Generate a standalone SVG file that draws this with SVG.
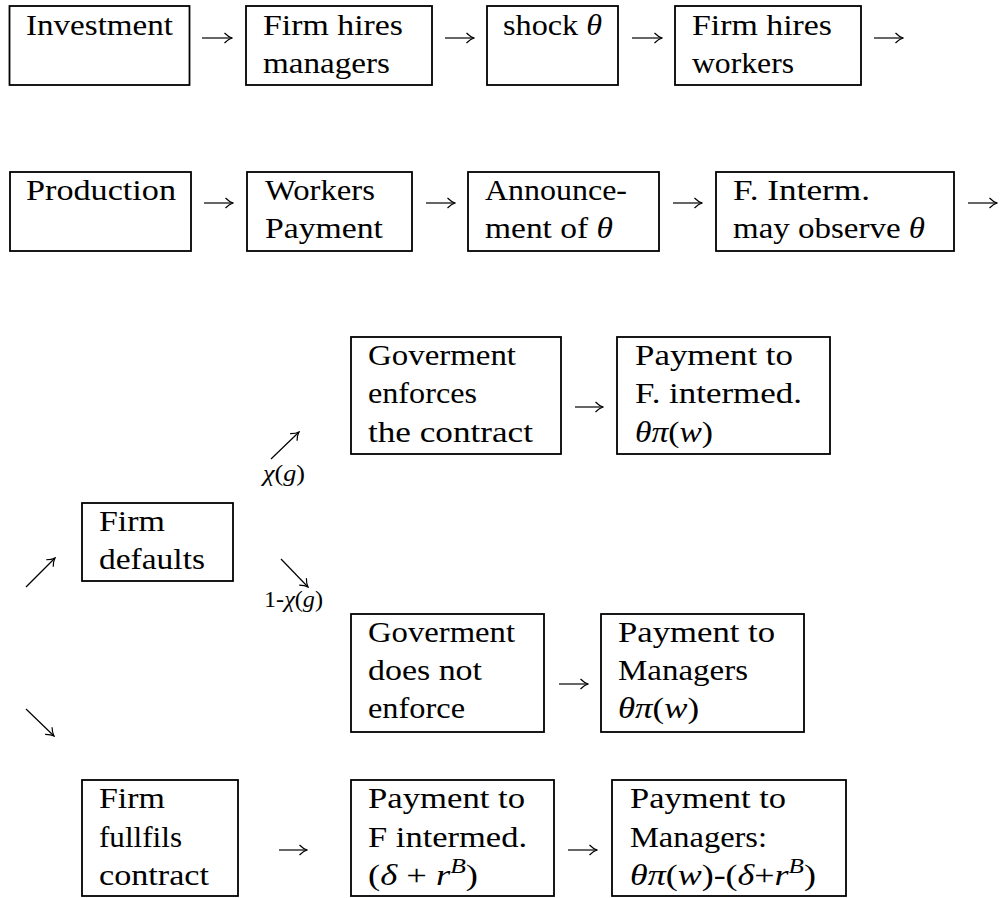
<svg xmlns="http://www.w3.org/2000/svg" width="1002" height="898" viewBox="0 0 1002 898" font-family="'Liberation Serif', 'DejaVu Serif', serif">
<style>
.box{fill:#fff;stroke:#000;stroke-width:1.8}
.t{font-family:'Liberation Serif', 'DejaVu Serif', serif;font-size:30px;fill:#000}
.s{font-family:'Liberation Serif', 'DejaVu Serif', serif;font-size:24px;fill:#000}
.i{font-style:italic}
.sup{font-size:21px;font-style:italic}
.arr{stroke:#000;stroke-width:1.2;fill:none}
</style>
<defs>
<marker id="ah" markerUnits="userSpaceOnUse" viewBox="-9 -6 10 12" refX="0" refY="0" markerWidth="10" markerHeight="12" orient="auto">
<path d="M -7.5,-5 Q -3.5,-1 0,0 Q -3.5,1 -7.5,5" fill="none" stroke="#000" stroke-width="1.2"/>
</marker>
</defs>
<rect width="1002" height="898" fill="#fff"/>

<g id="investment"><rect class="box" x="9.5" y="6" width="180" height="79"/><text class="t" x="26" y="35" textLength="147" lengthAdjust="spacingAndGlyphs">Investment</text></g>
<g id="hire-managers"><rect class="box" x="246" y="6" width="186" height="79"/><text class="t" x="263" y="35" textLength="140" lengthAdjust="spacingAndGlyphs">Firm hires</text><text class="t" x="263" y="73" textLength="127" lengthAdjust="spacingAndGlyphs">managers</text></g>
<g id="shock"><rect class="box" x="487" y="6" width="131" height="79"/><text class="t" x="503" y="35" textLength="99" lengthAdjust="spacingAndGlyphs">shock <tspan class="i">θ</tspan></text></g>
<g id="hire-workers"><rect class="box" x="675" y="6" width="186" height="79"/><text class="t" x="692" y="35" textLength="140" lengthAdjust="spacingAndGlyphs">Firm hires</text><text class="t" x="692" y="73" textLength="102" lengthAdjust="spacingAndGlyphs">workers</text></g>

<g id="production"><rect class="box" x="10" y="172" width="181" height="79"/><text class="t" x="26" y="200" textLength="150" lengthAdjust="spacingAndGlyphs">Production</text></g>
<g id="workers-payment"><rect class="box" x="247" y="172" width="165" height="79"/><text class="t" x="265" y="200" textLength="110" lengthAdjust="spacingAndGlyphs">Workers</text><text class="t" x="265" y="238" textLength="118" lengthAdjust="spacingAndGlyphs">Payment</text></g>
<g id="announcement"><rect class="box" x="468" y="172" width="191" height="79"/><text class="t" x="485" y="200" textLength="142" lengthAdjust="spacingAndGlyphs">Announce-</text><text class="t" x="485" y="238" textLength="128" lengthAdjust="spacingAndGlyphs">ment of <tspan class="i">θ</tspan></text></g>
<g id="f-interm"><rect class="box" x="716" y="172" width="238" height="79"/><text class="t" x="733" y="200" textLength="137" lengthAdjust="spacingAndGlyphs">F. Interm.</text><text class="t" x="733" y="238" textLength="192" lengthAdjust="spacingAndGlyphs">may observe <tspan class="i">θ</tspan></text></g>

<g id="gov-enforces"><rect class="box" x="351" y="337" width="210" height="117"/><text class="t" x="368" y="365" textLength="148" lengthAdjust="spacingAndGlyphs">Goverment</text><text class="t" x="368" y="403" textLength="109" lengthAdjust="spacingAndGlyphs">enforces</text><text class="t" x="368" y="442" textLength="165" lengthAdjust="spacingAndGlyphs">the contract</text></g>
<g id="pay-intermed-1"><rect class="box" x="617" y="337" width="213" height="117"/><text class="t" x="635" y="365" textLength="158" lengthAdjust="spacingAndGlyphs">Payment to</text><text class="t" x="635" y="403" textLength="167" lengthAdjust="spacingAndGlyphs">F. intermed.</text><text class="t" x="635" y="442" textLength="78" lengthAdjust="spacingAndGlyphs"><tspan class="i">θπ</tspan>(<tspan class="i">w</tspan>)</text></g>

<g id="firm-defaults"><rect class="box" x="82" y="503" width="151" height="78"/><text class="t" x="99" y="531" textLength="66" lengthAdjust="spacingAndGlyphs">Firm</text><text class="t" x="99" y="569" textLength="106" lengthAdjust="spacingAndGlyphs">defaults</text></g>

<g id="gov-not-enforce"><rect class="box" x="351" y="614" width="193" height="118"/><text class="t" x="368" y="642" textLength="147" lengthAdjust="spacingAndGlyphs">Goverment</text><text class="t" x="368" y="680" textLength="114" lengthAdjust="spacingAndGlyphs">does not</text><text class="t" x="368" y="718" textLength="97" lengthAdjust="spacingAndGlyphs">enforce</text></g>
<g id="pay-managers-1"><rect class="box" x="601" y="614" width="203" height="118"/><text class="t" x="618" y="642" textLength="157" lengthAdjust="spacingAndGlyphs">Payment to</text><text class="t" x="618" y="680" textLength="130" lengthAdjust="spacingAndGlyphs">Managers</text><text class="t" x="618" y="718" textLength="81" lengthAdjust="spacingAndGlyphs"><tspan class="i">θπ</tspan>(<tspan class="i">w</tspan>)</text></g>

<g id="firm-fulfils"><rect class="box" x="82" y="780" width="156" height="116"/><text class="t" x="99" y="808" textLength="66" lengthAdjust="spacingAndGlyphs">Firm</text><text class="t" x="99" y="847" textLength="83" lengthAdjust="spacingAndGlyphs">fullfils</text><text class="t" x="99" y="885" textLength="110" lengthAdjust="spacingAndGlyphs">contract</text></g>
<g id="pay-intermed-2"><rect class="box" x="351" y="780" width="203" height="116"/><text class="t" x="368" y="808" textLength="157" lengthAdjust="spacingAndGlyphs">Payment to</text><text class="t" x="368" y="847" textLength="159" lengthAdjust="spacingAndGlyphs">F intermed.</text><text class="t" x="368" y="885" textLength="110" lengthAdjust="spacingAndGlyphs">(<tspan class="i">δ</tspan> + <tspan class="i">r</tspan><tspan class="sup" dy="-12">B</tspan><tspan dy="12">)</tspan></text></g>
<g id="pay-managers-2"><rect class="box" x="612" y="780" width="234" height="116"/><text class="t" x="630" y="808" textLength="156" lengthAdjust="spacingAndGlyphs">Payment to</text><text class="t" x="630" y="847" textLength="137" lengthAdjust="spacingAndGlyphs">Managers:</text><text class="t" x="630" y="885" textLength="186" lengthAdjust="spacingAndGlyphs"><tspan class="i">θπ</tspan>(<tspan class="i">w</tspan>)-(<tspan class="i">δ</tspan>+<tspan class="i">r</tspan><tspan class="sup" dy="-12">B</tspan><tspan dy="12">)</tspan></text></g>

<g id="connectors">
<line class="arr" x1="202" y1="38" x2="232" y2="38" marker-end="url(#ah)"/>
<line class="arr" x1="445" y1="38" x2="474" y2="38" marker-end="url(#ah)"/>
<line class="arr" x1="632" y1="38" x2="662" y2="38" marker-end="url(#ah)"/>
<line class="arr" x1="874" y1="38" x2="903" y2="38" marker-end="url(#ah)"/>
<line class="arr" x1="204" y1="203" x2="233" y2="203" marker-end="url(#ah)"/>
<line class="arr" x1="426" y1="203" x2="455" y2="203" marker-end="url(#ah)"/>
<line class="arr" x1="673" y1="203" x2="702" y2="203" marker-end="url(#ah)"/>
<line class="arr" x1="968" y1="203" x2="997" y2="203" marker-end="url(#ah)"/>
<line class="arr" x1="575" y1="407" x2="603" y2="407" marker-end="url(#ah)"/>
<line class="arr" x1="559" y1="684" x2="588" y2="684" marker-end="url(#ah)"/>
<line class="arr" x1="279" y1="850" x2="307" y2="850" marker-end="url(#ah)"/>
<line class="arr" x1="568" y1="850" x2="597" y2="850" marker-end="url(#ah)"/>
<line class="arr" x1="26" y1="587" x2="55" y2="558" marker-end="url(#ah)"/>
<line class="arr" x1="26" y1="709" x2="54" y2="736" marker-end="url(#ah)"/>
<line class="arr" x1="271" y1="459" x2="299" y2="432" marker-end="url(#ah)"/>
<line class="arr" x1="281" y1="559" x2="308" y2="587" marker-end="url(#ah)"/>
<text class="s" x="263" y="481" textLength="42" lengthAdjust="spacingAndGlyphs"><tspan class="i">χ</tspan>(<tspan class="i">g</tspan>)</text>
<text class="s" x="264" y="607" textLength="59" lengthAdjust="spacingAndGlyphs">1-<tspan class="i">χ</tspan>(<tspan class="i">g</tspan>)</text>
</g>
</svg>
